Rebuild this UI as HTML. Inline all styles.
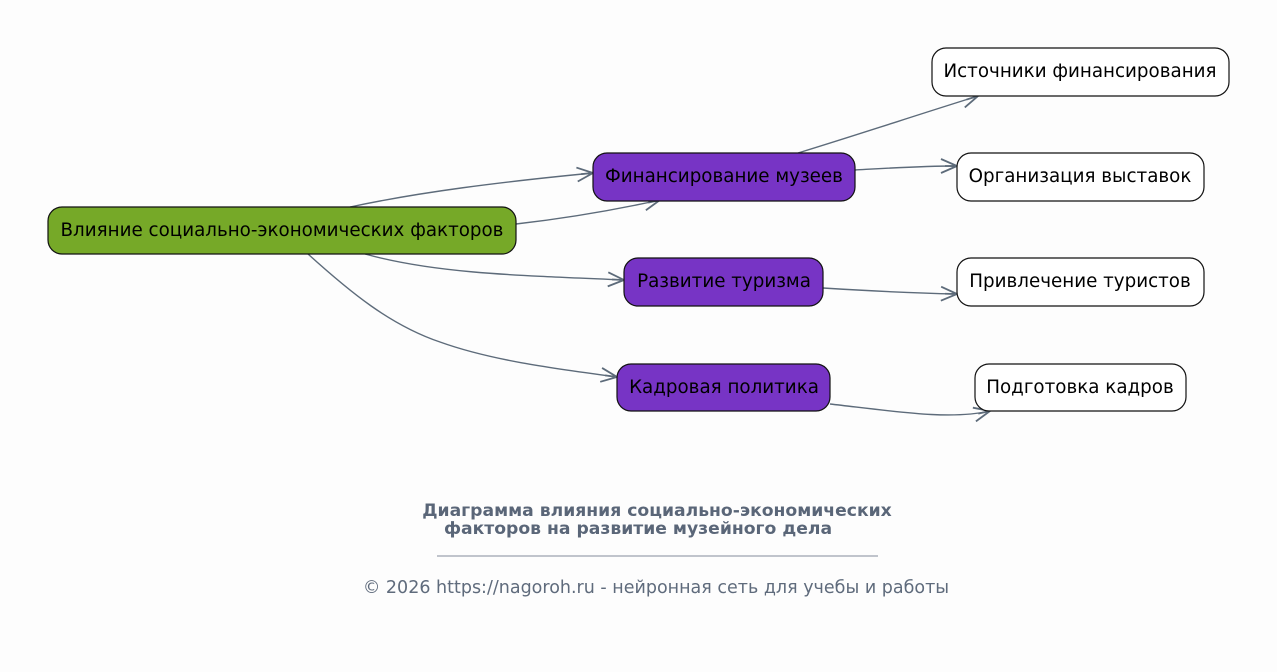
<!DOCTYPE html>
<html><head><meta charset="utf-8"><style>
html,body{margin:0;padding:0;background:#fdfdfd;}
svg{display:block;font-family:"DejaVu Sans","Liberation Sans",sans-serif;}
</style></head><body>
<svg width="1277" height="672" viewBox="0 0 1277 672" xmlns="http://www.w3.org/2000/svg">
<defs><marker id="a" markerWidth="20" markerHeight="16" refX="18" refY="8" orient="auto" markerUnits="userSpaceOnUse"><path d="M2,1 L18,8 L2,15 M6,8 L18,8" fill="none" stroke="#5d6b7a" stroke-width="1.8"/></marker></defs>
<g fill="none" stroke="#5d6b7a" stroke-width="1.4" marker-end="url(#a)">
<path d="M350,207 C420,192 500,182 593,173"/>
<path d="M516,224 C560,219 610,211 660,200"/>
<path d="M365,254 C430,272 500,275 624,280"/>
<path d="M308,254 C350,292 390,325 440,342 C490,360 550,368 617,377"/>
<path d="M798,153 C860,134 920,114 978,96"/>
<path d="M855,170 C890,168 920,166 957,166"/>
<path d="M823,288 C870,291 910,293 957,294"/>
<path d="M830,404 C900,412 950,420 990,411"/>
</g>
<g stroke="#111" stroke-width="1.2">
<rect x="48" y="207" width="468" height="47" rx="14" fill="#76a928"/>
<rect x="593" y="153" width="262" height="48" rx="14" fill="#7734c5"/>
<rect x="624" y="258" width="199" height="48" rx="14" fill="#7734c5"/>
<rect x="617" y="364" width="213" height="47" rx="14" fill="#7734c5"/>
<rect x="932" y="48" width="297" height="48" rx="14" fill="#fff"/>
<rect x="957" y="153" width="247" height="48" rx="14" fill="#fff"/>
<rect x="957" y="258" width="247" height="48" rx="14" fill="#fff"/>
<rect x="975" y="364" width="211" height="47" rx="14" fill="#fff"/>
</g>
<g font-size="18.3" fill="#000" text-anchor="middle">
<text x="282" y="236">Влияние социально-экономических факторов</text>
<text x="724" y="182">Финансирование музеев</text>
<text x="724" y="287">Развитие туризма</text>
<text x="724" y="393">Кадровая политика</text>
<text x="1080" y="77">Источники финансирования</text>
<text x="1080" y="182">Организация выставок</text>
<text x="1080" y="287">Привлечение туристов</text>
<text x="1080" y="393">Подготовка кадров</text>
</g>
<g fill="#5a6678" text-anchor="middle">
<text x="657" y="516" font-size="17.2" font-weight="bold">Диаграмма влияния социально-экономических</text>
<text x="638" y="534" font-size="17.2" font-weight="bold">факторов на развитие музейного дела</text>
<line x1="437" y1="556" x2="878" y2="556" stroke="#5a6678" stroke-width="0.8"/>
<text x="656" y="593" font-size="17.5" fill="#5f6b7c">© 2026 https://nagoroh.ru - нейронная сеть для учебы и работы</text>
</g>
</svg>
</body></html>
